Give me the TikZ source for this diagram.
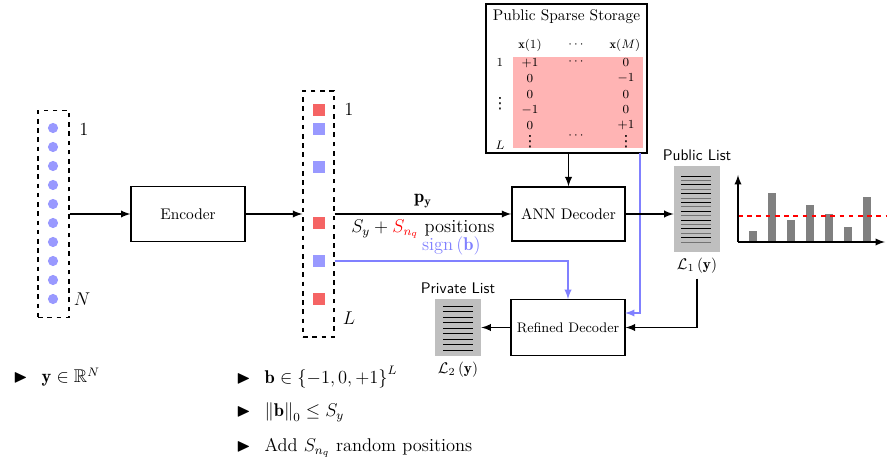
\documentclass[tikz,border=0pt]{standalone}
\usepackage{amsmath}
\usepackage{amssymb}
\usepackage{fontspec}
\newfontfamily\dotsfont{DejaVu Sans}
\usetikzlibrary{positioning}

\definecolor{vecblue}{RGB}{153,153,255}
\definecolor{vecred}{RGB}{245,100,100}
\definecolor{signblue}{RGB}{128,128,255}
\definecolor{storepink}{RGB}{255,180,180}

\newcommand{\vdotsglyph}{{\normalsize\dotsfont ⋮}}

\tikzset{
  conn/.style={->, line width=1.1pt},
  block/.style={draw, line width=0.9pt, fill=white, minimum width=74pt, minimum height=36pt},
  colbox/.style={draw, line width=1pt, dashed, minimum width=20pt},
  sq/.style={inner sep=0pt, minimum size=7.8pt},
  listbox/.style={fill=gray!50, inner sep=0pt, minimum width=30pt},
  item/.style={anchor=west, font=\large},
}

\begin{document}
\begin{tikzpicture}[x=0.65pt, y=-0.65pt, >=latex]
\useasboundingbox (0,0) rectangle (887,459);

% input vector y
\node[colbox, minimum height=134.5pt] (ycol) at (53.5,214) {};
\foreach \i in {0,...,9}
    \fill[vecblue] (53,128+19*\i) circle[radius=3.3pt];
\node[font=\large] (yone) at (84,130) {$1$};
\node[font=\large] (yN) at (82,299) {$N$};

\node[block] (enc) at (188,214) {Encoder};

% sparse code b
\node[colbox, minimum height=160pt] (bcol) at (318.5,214) {};
\foreach \y/\c [count=\i] in {110/vecred,129/vecblue,167/vecblue,223/vecred,261/vecblue,299/vecred}
    \node[sq, fill=\c] (b\i) at (319,\y) {};
\node[font=\large] (bone) at (349,110) {$1$};
\node[font=\large] (bL) at (349,318) {$L$};

% storage
\node[draw, line width=0.9pt, minimum width=104.6pt, minimum height=97pt] (store) at (566.5,78.5) {};
\node (storetitle) at (566.5,17) {Public Sparse Storage};
\fill[storepink] (513,57) rectangle (643,148);
\begin{scope}[font=\footnotesize, inner sep=0.5pt]
\node (h1) at (530,45) {$\mathbf{x}(1)$};
\node (h2) at (577,45) {$\cdots$};
\node (h3) at (625,45) {$\mathbf{x}(M)$};
\foreach \a/\c [count=\r] in {+1/0, 0/-1, 0/0, -1/0, 0/+1} {
    \node at (530,63+15.6*\r-15.6) {$\a$};
    \node at (626,63+15.6*\r-15.6) {$\c$};
}
\node at (530,142) {\vdotsglyph};
\node at (626,142) {\vdotsglyph};
\node at (577,62) {$\cdots$};
\node at (577,136) {$\cdots$};
\node (r1) at (500,63) {$1$};
\node (rdots) at (500,104) {\vdotsglyph};
\node (rL) at (500,145) {$L$};
\end{scope}

\node[block, minimum width=73.5pt, minimum height=35pt] (ann) at (568.5,214) {ANN Decoder};
\node[block, font=\small] (ref) at (568,327.5) {Refined Decoder};

% lists
\node[listbox, minimum height=56pt] (pub) at (697,209) {};
\foreach \i in {0,...,15} {
    \pgfmathsetmacro{\lc}{mod(\i,2)==0 ? 100 : 55}
    \draw[black!\lc, semithick] (681,176+4.4*\i) -- (711,176+4.4*\i);
}
\node[above=0pt of pub, font=\sffamily] (publabel) {Public List};
\node[below=0pt of pub] (l1) {$\mathcal{L}_1\left(\mathbf{y}\right)$};

\node[listbox, minimum height=37pt] (priv) at (458,327.5) {};
\foreach \i in {0,...,8}
    \draw[black, semithick] (443,306+5.5*\i) -- (473,306+5.5*\i);
\node[above=0pt of priv, font=\sffamily] (privlabel) {Private List};
\node[below=0pt of priv] (l2) {$\mathcal{L}_2\left(\mathbf{y}\right)$};

% connectors
\draw[conn] (ycol) -- (enc);
\draw[conn] (enc) -- (bcol);
\draw[conn] (bcol) -- node[above, font=\large] {$\mathbf{p}_{\mathbf{y}}$}
    node[below, font=\large] {$S_y+\textcolor{red}{S_{n_q}}$ positions} (ann);
\draw[conn, signblue] (bcol.east |- b5) -| node[pos=0.25, above, font=\large] {$\mathrm{sign}\left(\mathbf{b}\right)$} (ref.north);
\draw[conn] (store.south -| ann.north) -- (ann.north);
\coordinate (sb) at (640,153);
\coordinate (rb) at (625,313);
\draw[conn, signblue] (sb) |- (rb);
\draw[conn] (ann.east) -- (ann.east -| pub.west);
\draw[conn] (l1.south) |- (ref.east);
\draw[conn] (ref) -- (priv);

% score histogram
\foreach \x/\h in {753/231, 772/193, 791/220, 810/205, 829/214, 848/227, 867/197}
    \fill[gray] (\x-4,242) rectangle (\x+4,\h);
\draw[red, line width=1.1pt, dashed] (738,216) -- (886,216);
\draw[conn] (738,242) -- (738,175);
\draw[conn] (738,242) -- (885,242);

% bullets
\node[item] (i1) at (8,377) {$\blacktriangleright$\hspace{9pt}$\mathbf{y}\in\mathbb{R}^N$};
\node[item] (i2) at (231,377) {$\blacktriangleright$\hspace{9pt}$\mathbf{b}\in\left\{-1,0,+1\right\}^L$};
\node[item] (i3) at (231,412) {$\blacktriangleright$\hspace{9pt}$\left\|\mathbf{b}\right\|_0\leq S_y$};
\node[item] (i4) at (231,448) {$\blacktriangleright$\hspace{9pt}Add $S_{n_q}$ random positions};
\end{tikzpicture}
\end{document}
